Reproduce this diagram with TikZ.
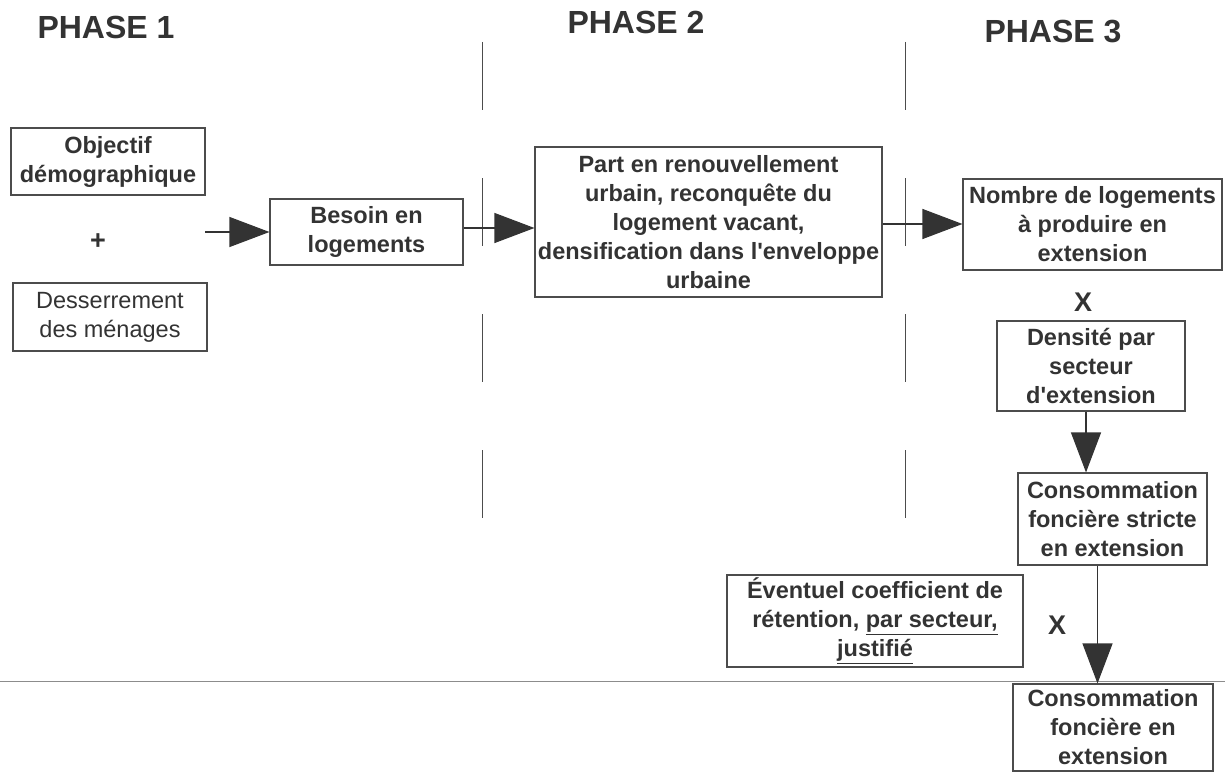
\documentclass[tikz,border=0pt]{standalone}
\usepackage{fontspec}
\newfontfamily\diagfont{Liberation Sans}
\usetikzlibrary{arrows.meta}

\begin{document}
\begin{tikzpicture}[x=1pt, y=-1pt,
    every node/.style={font=\diagfont, text=black!80},
    box/.style={draw=black!70, line width=1.1pt, align=center, inner sep=1pt,
                font=\diagfont\bfseries\fontsize{23.5}{29}\selectfont},
    plainbox/.style={box, font=\diagfont\fontsize{23.5}{29}\selectfont},
    phase/.style={font=\diagfont\bfseries\fontsize{32}{36}\selectfont},
    sign/.style={font=\diagfont\bfseries\fontsize{27}{30}\selectfont},
    flow/.style={draw=black!80, line width=1.1pt, -{Triangle[length=40pt, width=30pt]}},
    split/.style={draw=black!70, line width=1pt, dash pattern=on 68pt off 68pt}]

        \useasboundingbox (0,0) rectangle (1225,773);

        % 1. Titoli delle tre fasi
        \node[phase] (ph1) at (106,27) {PHASE 1};
        \node[phase] (ph2) at (636,22) {PHASE 2};
        \node[phase] (ph3) at (1053,32) {PHASE 3};

        % 2. Separatori verticali tra le fasi
        \draw[split] (482,42) -- (482,520);
        \draw[split] (905,42) -- (905,520);

        % 3. Linea orizzontale in basso
        \draw[draw=black!45, line width=0.8pt] (0,681) -- (1225,681);

        % 4. Fase 1
        \node[box, minimum width=194pt, minimum height=67pt] (obj) at (108,161.5)
            {Objectif\\démographique};
        \node[sign] (plus) at (98,242) {+};
        \node[plainbox, minimum width=194pt, minimum height=68pt] (dess) at (110,317)
            {Desserrement\\des ménages};
        \coordinate (start) at (205,232);
        \node[box, minimum width=193pt, minimum height=66pt] (bes) at (366.5,232)
            {Besoin en\\logements};

        % 5. Fase 2
        \node[box, minimum width=347pt, minimum height=150pt] (part) at (708.5,222)
            {Part en renouvellement\\urbain, reconquête du\\logement vacant,\\densification dans l'enveloppe\\urbaine};

        % 6. Fase 3
        \node[box, minimum width=259pt, minimum height=91pt] (nomb) at (1092.5,224.5)
            {Nombre de logements\\à produire en\\extension};
        \node[sign] (x1) at (1083,302) {X};
        \node[box, minimum width=188pt, minimum height=90pt] (dens) at (1091,366)
            {Densité par\\secteur\\d'extension};
        \node[box, minimum width=189pt, minimum height=92pt] (cstr) at (1112.5,519)
            {Consommation\\foncière stricte\\en extension};
        \node[box, minimum width=296pt, minimum height=92pt] (event) at (875,621)
            {Éventuel coefficient de\\rétention, \underline{par secteur,}\\\underline{justifié}};
        \node[sign] (x2) at (1057,625) {X};
        \node[box, minimum width=200pt, minimum height=87pt] (cext) at (1113,727.5)
            {Consommation\\foncière en\\extension};

        % 7. Frecce
        \coordinate (besout) at ([yshift=4pt]bes.east);
        \coordinate (partout) at ([yshift=-2pt]part.east);
        \coordinate (densout) at ([xshift=-5pt]dens.south);
        \coordinate (cstrout) at ([xshift=-15pt]cstr.south);
        \draw[flow] (start) -- (bes.west);
        \draw[flow] (besout) -- (part.west |- besout);
        \draw[flow] (partout) -- (nomb.west |- partout);
        \draw[flow] (densout) -- (densout |- cstr.north);
        \draw[flow] (cstrout) -- (cstrout |- cext.north);
    \end{tikzpicture}
\end{document}
